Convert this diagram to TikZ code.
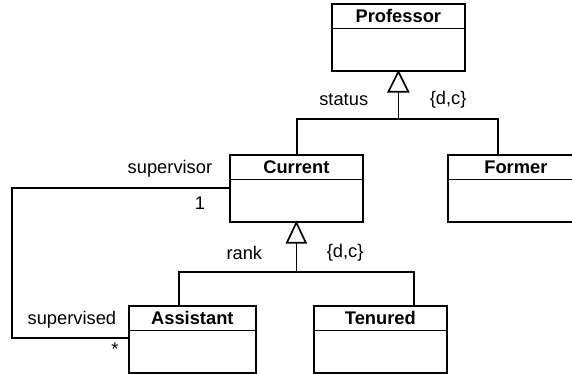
\documentclass[tikz,border=0pt]{standalone}
\usepackage{fontspec}
\setmainfont{Liberation Sans}
\begin{document}
\begin{tikzpicture}[x=1pt,y=-1pt,line width=1.7pt,
  classbox/.style={draw,fill=white,minimum width=133pt,minimum height=67pt,anchor=north west,inner sep=0pt},
  ctitle/.style={font=\fontsize{18.3}{20}\selectfont\bfseries,inner sep=0pt,anchor=center},
  lbl/.style={font=\fontsize{18.3}{20}\selectfont,inner sep=0pt},
  gen/.style={draw,fill=white,line width=1.7pt}]
\useasboundingbox (0,0) rectangle (572,373);
\clip (0,0) rectangle (572,373);
% boxes
\node[classbox] (prof) at (331,3) {};
\node[classbox] (cur) at (229,154) {};
\node[classbox,minimum width=136pt] (form) at (447,154) {};
\node[classbox,minimum width=127pt] (asst) at (128,305) {};
\node[classbox] (ten) at (313,305) {};
\foreach \b in {prof,cur,form,asst,ten}{
  \draw ([yshift=-25.5pt]\b.north west) -- ([yshift=-25.5pt]\b.north east);
}
\node[ctitle] at ([yshift=-13pt]prof.north) {Professor};
\node[ctitle] at ([yshift=-13pt]cur.north) {Current};
\node[ctitle] at ([yshift=-13pt]form.north) {Former};
\node[ctitle] at ([yshift=-13pt]asst.north) {Assistant};
\node[ctitle] at ([yshift=-13pt]ten.north) {Tenured};
% generalization 1
\coordinate (j1) at (prof.south |- 0,119);
\draw (j1) -- ++(0,-29);
\draw[gen] (prof.south) -- ++(-10,20) -- ++(20,0) -- cycle;
\draw (297,0 |- cur.north) |- (j1) -| (498,0 |- form.north);
% generalization 2
\coordinate (j2) at (cur.south |- 0,272);
\draw (j2) -- ++(0,-31);
\draw[gen] (cur.south) -- ++(-9.5,20) -- ++(19,0) -- cycle;
\draw (179,0 |- asst.north) |- (j2) -| (414,0 |- ten.north);
% association
\coordinate (a1) at (12,188);
\coordinate (a2) at (12,338);
\draw (cur.west |- 0,188) -- (a1) -- (a2) -- (asst.west |- 0,338);
% labels
\node[lbl,anchor=east] (lstatus) at (369,100) {status};
\node[lbl,anchor=west] (ldc1) at (429,100) {\{d,c\}};
\node[lbl,anchor=east] (lsup) at (213,169) {supervisor};
\node[lbl] (lone) at (200,203) {1};
\node[lbl,anchor=east] (lrank) at (263,253) {rank};
\node[lbl,anchor=west] (ldc2) at (326,253) {\{d,c\}};
\node[lbl,anchor=east] (lsvd) at (117,320) {supervised};
\node[lbl] (lstar) at (115,349) {*};
\end{tikzpicture}
\end{document}
